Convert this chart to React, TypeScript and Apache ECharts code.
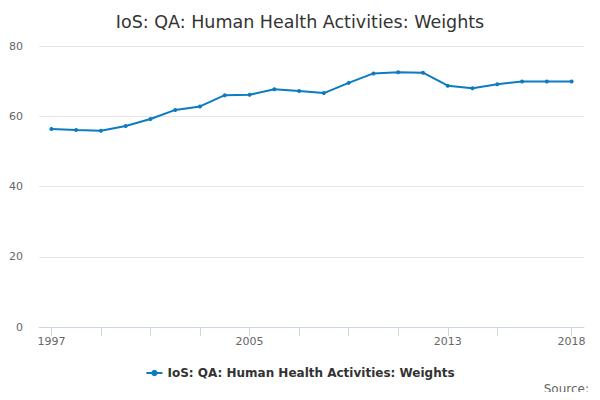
import React, { useEffect, useRef } from "react";
import * as echarts from "echarts";

const years = [
  "1997", "1998", "1999", "2000", "2001", "2002", "2003", "2004", "2005", "2006", "2007",
  "2008", "2009", "2010", "2011", "2012", "2013", "2014", "2015", "2016", "2017", "2018",
];
const weights = [
  56.4, 56.1, 55.9, 57.2, 59.2, 61.8, 62.8, 66.0, 66.1, 67.7, 67.2,
  66.6, 69.5, 72.2, 72.5, 72.4, 68.7, 68.0, 69.1, 69.9, 69.9, 69.9,
];
const labelYears = ["1997", "2005", "2013", "2018"];
const tickYears = ["1997", "1999", "2001", "2003", "2005", "2007", "2009", "2011", "2013", "2015", "2018"];
const seriesName = "IoS: QA: Human Health Activities: Weights";

export default function App() {
  const ref = useRef<HTMLDivElement>(null);
  useEffect(() => {
    if (!ref.current) return;
    const chart = echarts.init(ref.current, null, { renderer: "svg" });
    const font = "DejaVu Sans";
    chart.setOption({
      animation: false,
      textStyle: { fontFamily: font },
      title: {
        text: seriesName,
        left: "center",
        top: 8,
        textStyle: { fontFamily: font, fontSize: 17.5, fontWeight: "normal", color: "#333333" },
      },
      grid: { left: 39, right: 16, top: 46, bottom: 73, containLabel: false },
      legend: {
        bottom: 16,
        left: "center",
        itemWidth: 16,
        itemHeight: 8,
        textStyle: { fontFamily: font, fontSize: 12, fontWeight: "bold", color: "#333333" },
        data: [seriesName],
      },
      graphic: [
        {
          type: "text",
          right: 11,
          top: 383,
          style: { text: "Source:", fontFamily: font, fontSize: 12, fill: "#666666" },
        },
      ],
      xAxis: {
        type: "category",
        data: years,
        boundaryGap: true,
        axisLine: { show: true, lineStyle: { color: "#ccd6eb", width: 1 } },
        axisTick: {
          show: true,
          alignWithLabel: true,
          length: 9,
          lineStyle: { color: "#ccd6eb", width: 1 },
          interval: (i: number, v: string) => tickYears.includes(v),
        },
        axisLabel: {
          color: "#666666",
          fontSize: 11,
          fontFamily: font,
          margin: 9,
          interval: (i: number, v: string) => labelYears.includes(v),
        },
      },
      yAxis: {
        type: "value",
        min: 0,
        max: 80,
        interval: 20,
        axisLine: { show: false },
        axisTick: { show: false },
        axisLabel: { color: "#666666", fontSize: 11, fontFamily: font, margin: 16 },
        splitLine: { lineStyle: { color: "#e6e6e6" } },
      },
      series: [
        {
          name: seriesName,
          type: "line",
          data: weights,
          symbol: "circle",
          symbolSize: 4,
          itemStyle: { color: "#0c7bc0" },
          lineStyle: { color: "#0c7bc0", width: 2 },
        },
      ],
    });
    return () => chart.dispose();
  }, []);
  return <div ref={ref} style={{ width: 600, height: 400, margin: -8 }} />;
}
